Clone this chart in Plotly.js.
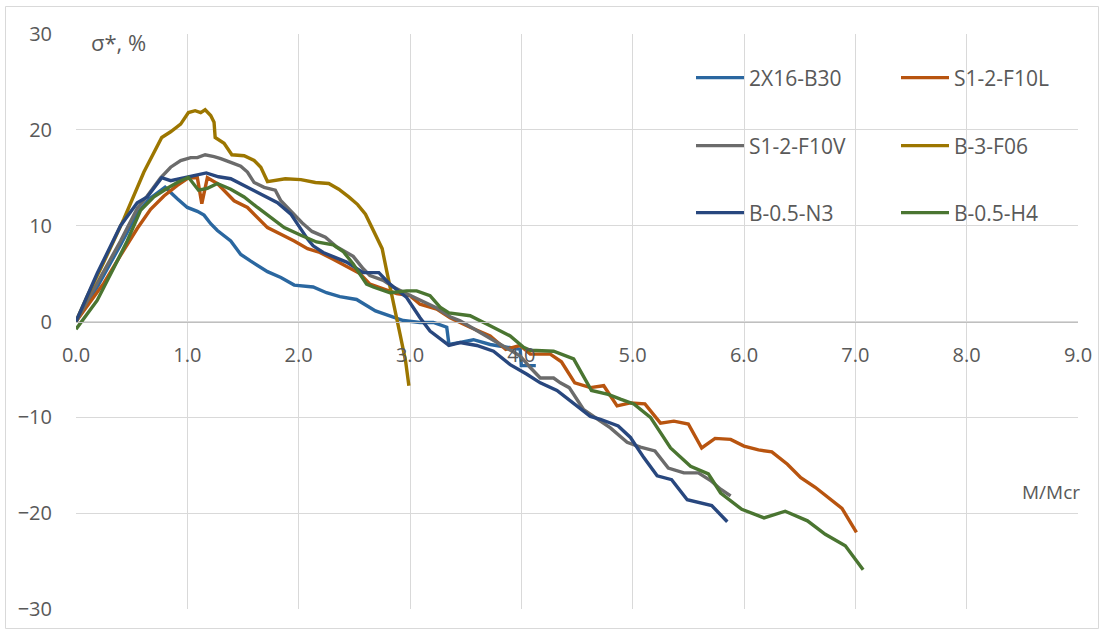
<!DOCTYPE html>
<html>
<head>
<meta charset="utf-8">
<script src="https://cdn.plot.ly/plotly-3.0.1.min.js"></script>
<style>
  html, body { margin: 0; padding: 0; background: #fff; }
  #chart { width: 1104px; height: 634px; }
</style>
</head>
<body>
<div id="chart"></div>
<script>
// Relative stress change sigma* (%) versus load level M/Mcr for six specimens.

const seriesNames = ['2X16-B30', 'S1-2-F10L', 'S1-2-F10V', 'B-3-F06', 'B-0.5-N3', 'B-0.5-H4'];

const b30X = [0, 0.2, 0.4, 0.55, 0.66, 0.8, 0.91, 1.0, 1.09, 1.15, 1.21, 1.27, 1.39, 1.48, 1.57, 1.72, 1.84, 1.96, 2.13, 2.25, 2.37, 2.52, 2.69, 2.82, 2.94, 3.09, 3.21, 3.33, 3.35, 3.44, 3.57, 3.72, 3.87, 3.99, 4.0, 4.13];
const b30Y = [0, 3.8, 8.0, 11.3, 12.8, 14.0, 12.8, 11.9, 11.5, 11.1, 10.2, 9.5, 8.4, 7.0, 6.3, 5.2, 4.6, 3.8, 3.6, 3.0, 2.6, 2.3, 1.1, 0.6, 0.1, -0.1, -0.1, -0.6, -2.4, -2.2, -1.9, -2.4, -2.7, -2.9, -4.6, -4.6];

const f10lX = [0, 0.25, 0.4, 0.55, 0.67, 0.79, 0.91, 0.98, 1.01, 1.07, 1.09, 1.13, 1.18, 1.27, 1.36, 1.42, 1.54, 1.63, 1.72, 1.84, 1.96, 2.08, 2.19, 2.31, 2.43, 2.55, 2.64, 2.76, 2.88, 3.0, 3.09, 3.24, 3.36, 3.54, 3.72, 3.86, 3.99, 4.08, 4.26, 4.36, 4.48, 4.62, 4.74, 4.86, 4.98, 5.11, 5.25, 5.37, 5.5, 5.62, 5.74, 5.88, 6.0, 6.13, 6.25, 6.39, 6.51, 6.64, 6.76, 6.88, 7.01];
const f10lY = [0, 4.0, 6.9, 9.7, 11.7, 13.1, 14.2, 14.7, 15.0, 15.0, 15.0, 12.3, 15.0, 14.4, 13.3, 12.6, 11.9, 10.9, 9.8, 9.1, 8.4, 7.6, 7.2, 6.5, 5.8, 5.0, 3.9, 3.4, 2.9, 2.7, 1.8, 1.3, 0.4, -0.6, -1.5, -2.9, -2.5, -3.4, -3.4, -4.2, -6.4, -6.9, -6.7, -8.8, -8.5, -8.6, -10.6, -10.4, -10.7, -13.2, -12.2, -12.3, -13.0, -13.4, -13.6, -14.9, -16.3, -17.3, -18.4, -19.5, -22.0];

const f10vX = [0, 0.2, 0.4, 0.55, 0.64, 0.76, 0.85, 0.94, 1.03, 1.09, 1.16, 1.24, 1.30, 1.39, 1.48, 1.54, 1.60, 1.69, 1.79, 1.84, 1.93, 2.03, 2.12, 2.24, 2.34, 2.43, 2.49, 2.58, 2.64, 2.76, 2.85, 2.97, 3.09, 3.24, 3.36, 3.45, 3.63, 3.81, 3.99, 4.08, 4.17, 4.29, 4.35, 4.43, 4.56, 4.8, 4.95, 5.07, 5.2, 5.32, 5.46, 5.59, 5.7, 5.79, 5.88];
const f10vY = [0, 4.2, 8.4, 11.8, 13.1, 15.0, 16.1, 16.8, 17.1, 17.1, 17.4, 17.2, 17.0, 16.6, 16.2, 15.6, 14.5, 14.0, 13.7, 12.6, 11.5, 10.3, 9.4, 8.8, 7.8, 7.2, 6.8, 5.5, 4.8, 4.3, 3.6, 2.9, 2.2, 1.4, 0.5, 0.07, -1.15, -2.4, -3.6, -4.8, -5.9, -5.9, -6.4, -6.9, -9.2, -11.1, -12.6, -13.1, -13.5, -15.3, -15.8, -15.8, -16.6, -17.5, -18.2];

const f06X = [0, 0.1, 0.25, 0.43, 0.61, 0.77, 0.85, 0.94, 1.01, 1.07, 1.12, 1.16, 1.21, 1.24, 1.25, 1.33, 1.40, 1.51, 1.60, 1.66, 1.72, 1.78, 1.88, 2.02, 2.15, 2.27, 2.36, 2.45, 2.53, 2.60, 2.67, 2.75, 2.79, 2.85, 2.91, 2.96, 2.99];
const f06Y = [0, 2.6, 6.2, 10.7, 15.6, 19.2, 19.8, 20.6, 21.8, 22.0, 21.8, 22.1, 21.5, 20.8, 19.2, 18.6, 17.4, 17.3, 16.8, 16.1, 14.6, 14.7, 14.9, 14.8, 14.5, 14.4, 13.8, 13.0, 12.2, 11.2, 9.5, 7.6, 5.3, 2.2, -1.3, -4.1, -6.7];

const n3X = [0, 0.19, 0.4, 0.55, 0.64, 0.77, 0.85, 1.03, 1.17, 1.28, 1.39, 1.54, 1.66, 1.81, 1.93, 2.02, 2.08, 2.13, 2.22, 2.43, 2.58, 2.72, 2.82, 2.97, 3.09, 3.18, 3.27, 3.35, 3.45, 3.6, 3.75, 3.9, 4.05, 4.17, 4.32, 4.47, 4.62, 4.71, 4.87, 4.98, 5.1, 5.22, 5.35, 5.49, 5.61, 5.71, 5.85];
const n3Y = [0, 5.0, 10.0, 12.4, 13.0, 15.0, 14.7, 15.2, 15.5, 15.1, 14.9, 14.0, 13.3, 12.4, 11.2, 9.6, 8.6, 7.9, 7.2, 6.2, 5.1, 5.1, 3.9, 2.5, 0.4, -1.0, -1.8, -2.5, -2.2, -2.5, -3.1, -4.5, -5.5, -6.4, -7.2, -8.6, -9.9, -10.2, -10.9, -12.1, -14.2, -16.1, -16.5, -18.6, -18.9, -19.2, -20.9];

const h4X = [0, 0.19, 0.34, 0.46, 0.58, 0.7, 0.82, 0.91, 1.01, 1.1, 1.18, 1.27, 1.39, 1.51, 1.63, 1.75, 1.87, 2.02, 2.16, 2.31, 2.4, 2.49, 2.61, 2.67, 2.82, 2.97, 3.06, 3.18, 3.27, 3.35, 3.54, 3.72, 3.9, 4.02, 4.08, 4.29, 4.47, 4.63, 4.78, 4.89, 5.01, 5.16, 5.34, 5.52, 5.68, 5.79, 5.98, 6.18, 6.37, 6.57, 6.73, 6.91, 7.07];
const h4Y = [-0.8, 2.2, 5.6, 8.4, 11.6, 13.0, 13.9, 14.5, 15.05, 13.7, 13.9, 14.4, 13.8, 13.0, 11.9, 10.8, 9.8, 9.0, 8.3, 8.0, 7.3, 6.0, 3.9, 3.6, 3.0, 3.2, 3.2, 2.7, 1.5, 0.9, 0.6, -0.45, -1.5, -2.7, -3.0, -3.1, -3.9, -7.2, -7.6, -8.1, -8.6, -10.0, -13.2, -15.1, -15.9, -17.9, -19.6, -20.5, -19.8, -20.8, -22.2, -23.4, -25.9];

const xTitle = 'M/Mcr';
const yTitle = 'σ*, %';

// ---------------------------------------------------------------------------
const W = 1104, H = 634;
const M = { l: 76, r: 26, t: 34, b: 25, autoexpand: false };
const plotW = W - M.l - M.r, plotH = H - M.t - M.b;
const px2x = p => (p - M.l) / plotW;          // pixel -> paper x
const px2y = p => (H - M.b - p) / plotH;      // pixel -> paper y

const textColor = '#595959';
const fontFamily = '"Open Sans", "Noto Sans", sans-serif';

const seriesData = [
  [b30X, b30Y, '#2A67A0', 'legend'],
  [f10lX, f10lY, '#B8540F', 'legend'],
  [f10vX, f10vY, '#6B6B6B', 'legend2'],
  [f06X, f06Y, '#9C7600', 'legend2'],
  [n3X, n3Y, '#28477E', 'legend3'],
  [h4X, h4Y, '#4A7531', 'legend3']
];

const traces = seriesData.map((s, i) => ({
  type: 'scatter',
  mode: 'lines',
  name: seriesNames[i],
  x: s[0],
  y: s[1],
  legend: s[3],
  line: { color: s[2], width: 3.4, shape: 'linear' },
  hoverinfo: 'x+y+name'
}));

const legendBase = {
  orientation: 'h',
  xanchor: 'left',
  yanchor: 'middle',
  x: px2x(691),
  entrywidth: 142,
  entrywidthmode: 'pixels',
  itemwidth: 48,
  bgcolor: 'rgba(0,0,0,0)',
  borderwidth: 0,
  font: { family: fontFamily, size: 21, color: textColor },
  traceorder: 'normal'
};

const layout = {
  width: W,
  height: H,
  margin: M,
  paper_bgcolor: '#ffffff',
  plot_bgcolor: '#ffffff',
  font: { family: fontFamily, size: 20, color: textColor },
  showlegend: true,
  xaxis: {
    range: [0, 9],
    tick0: 0,
    dtick: 1,
    tickformat: '.1f',
    showgrid: true,
    gridcolor: '#D9D9D9',
    gridwidth: 1,
    zeroline: false,
    showline: true,
    linecolor: '#BFBFBF',
    linewidth: 1,
    anchor: 'free',
    position: 0.5,
    ticks: '',
    ticklabelstandoff: 15,
    tickfont: { family: fontFamily, size: 20, color: textColor },
    fixedrange: true
  },
  yaxis: {
    range: [-30, 30],
    tick0: 0,
    dtick: 10,
    showgrid: true,
    gridcolor: '#D9D9D9',
    gridwidth: 1,
    zeroline: false,
    showline: false,
    ticks: '',
    ticklabelstandoff: 23,
    tickfont: { family: fontFamily, size: 20, color: textColor },
    fixedrange: true
  },
  legend: Object.assign({}, legendBase, { y: px2y(78) }),
  legend2: Object.assign({}, legendBase, { y: px2y(146) }),
  legend3: Object.assign({}, legendBase, { y: px2y(213) }),
  annotations: [
    {
      text: yTitle, xref: 'paper', yref: 'paper',
      x: px2x(89), y: px2y(42), xanchor: 'left', yanchor: 'middle',
      showarrow: false, font: { family: fontFamily, size: 22, color: textColor }
    },
    {
      text: xTitle, xref: 'paper', yref: 'paper',
      x: px2x(1020), y: px2y(492), xanchor: 'left', yanchor: 'middle',
      showarrow: false, font: { family: fontFamily, size: 19, color: textColor }
    }
  ],
  shapes: [
    {
      type: 'rect', xref: 'paper', yref: 'paper', layer: 'below',
      x0: px2x(5.5), x1: px2x(1098.5), y0: px2y(628.5), y1: px2y(6.5),
      line: { color: '#D9D9D9', width: 1 }, fillcolor: 'rgba(0,0,0,0)'
    }
  ]
};

Plotly.newPlot('chart', traces, layout, { displayModeBar: false, staticPlot: true });
</script>
</body>
</html>
